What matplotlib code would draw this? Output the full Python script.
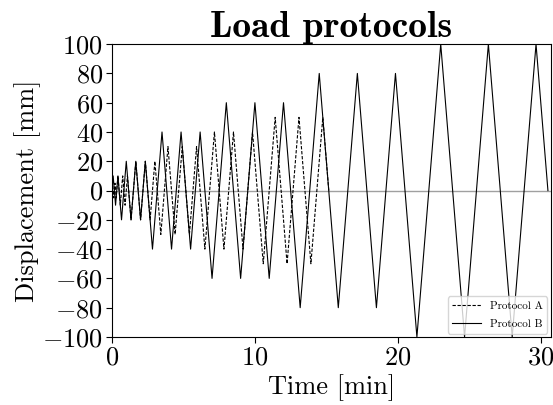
"""
Load protocols: cyclic displacement histories A and B.
"""

import matplotlib

matplotlib.use("Agg")
import matplotlib.pyplot as plt

# vertices of the triangular load histories (time in min, displacement in mm)
A_time = [0, 0.042, 0.125, 0.208, 0.292, 0.417, 0.583, 0.75, 0.917, 1.083,
          1.333, 1.667, 2.0, 2.333, 2.667, 3.0,
          3.417, 3.917, 4.417, 4.917, 5.417, 5.917,
          6.5, 7.167, 7.833, 8.5, 9.167, 9.833,
          10.583, 11.417, 12.25, 13.083, 13.917, 14.75, 15.167]
A_disp = [0, 5, -5, 5, -5, 10, -10, 10, -10, 10,
          -20, 20, -20, 20, -20, 20,
          -30, 30, -30, 30, -30, 30,
          -40, 40, -40, 40, -40, 40,
          -50, 50, -50, 50, -50, 50, 0]

B_time = [0, 0.083, 0.25, 0.417,
          0.667, 1.0, 1.333, 1.667, 2.0, 2.333,
          2.833, 3.5, 4.167, 4.833, 5.5, 6.167,
          7.0, 8.0, 9.0, 10.0, 11.0, 12.0,
          13.167, 14.5, 15.833, 17.167, 18.5, 19.833,
          21.333, 23.0, 24.667, 26.333, 28.0, 29.667, 30.5]
B_disp = [0, 10, -10, 10,
          -20, 20, -20, 20, -20, 20,
          -40, 40, -40, 40, -40, 40,
          -60, 60, -60, 60, -60, 60,
          -80, 80, -80, 80, -80, 80,
          -100, 100, -100, 100, -100, 100, 0]

X_TICKS = [0, 10, 20, 30]
Y_TICKS = list(range(-100, 101, 20))

plt.rcParams["font.family"] = "serif"
plt.rcParams["font.serif"] = ["cmr10"]
plt.rcParams["mathtext.fontset"] = "cm"
plt.rcParams["axes.formatter.use_mathtext"] = True
plt.rcParams["axes.unicode_minus"] = True


def main():
    fig = plt.figure(figsize=(5.53, 4.05), dpi=100)
    ax = fig.add_axes([0.2025, 0.168, 0.7935, 0.723])

    ax.axhline(0, color="#a0a0a0", linewidth=1.0, zorder=1)
    ax.plot(A_time, A_disp, color="black", linestyle="--", linewidth=0.8,
            dashes=(3, 1.5), label="Protocol A", zorder=2)
    ax.plot(B_time, B_disp, color="black", linestyle="-", linewidth=0.8,
            label="Protocol B", zorder=3)

    ax.set_xlim(0, 30.7)
    ax.set_ylim(-100, 100)
    ax.set_xticks(X_TICKS)
    ax.set_yticks(Y_TICKS)
    ax.tick_params(labelsize=19, length=4.5, width=0.8, pad=2)

    ax.set_xlabel("Time [min]", fontsize=19, labelpad=3)
    ax.set_ylabel("Displacement [mm]", fontsize=19, labelpad=1)
    ax.set_title("Load protocols", fontsize=27, family="cmb10", pad=1)

    ax.legend(loc="lower right", fontsize=8, handlelength=2.6,
              labelspacing=0.8, borderaxespad=0.3, framealpha=0.8)

    fig.savefig("out.png", dpi=100)
    plt.close(fig)


if __name__ == "__main__":
    main()
